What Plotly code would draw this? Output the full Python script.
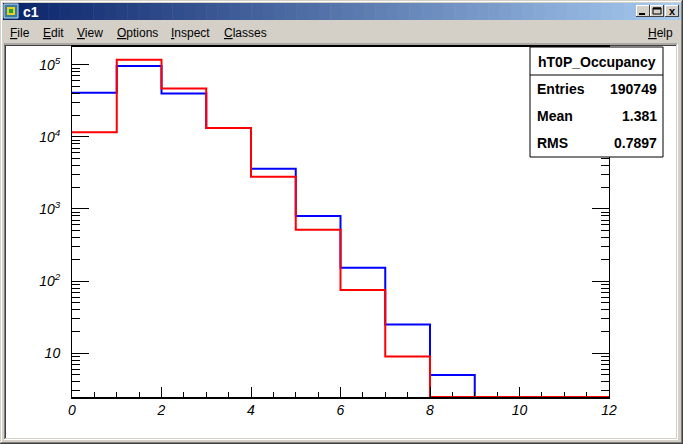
import plotly.graph_objects as go

# ---------------- data ----------------
bin_edges = [0, 1, 2, 3, 4, 5, 6, 7, 8, 9, 10, 11, 12]
blue_counts = [41000, 96000, 40000, 13300, 3600, 800, 153, 25, 5, 0, 0, 0]
red_counts = [11600, 117000, 47000, 13300, 2800, 516, 75, 9, 0, 0, 0, 0]
y_tick_vals = [10, 100, 1000, 10000, 100000]
y_tick_text = ["10", "10<sup>2</sup>", "10<sup>3</sup>", "10<sup>4</sup>", "10<sup>5</sup>"]
x_tick_vals = [0, 2, 4, 6, 8, 10, 12]
stats_title = "hT0P_Occupancy"
stats_rows = [("Entries", "190749"), ("Mean", "1.381"), ("RMS", "0.7897")]
menu_items = [("File", 8), ("Edit", 41), ("View", 75), ("Options", 115),
              ("Inspect", 169), ("Classes", 222)]

# ---------------- geometry ----------------
W, H = 683, 444
L, R, T, B = 72, 609, 47, 397
YLOG = [0.393, 5.246]
GRAY = "#d4d0c8"


def px(x):
    return (x - L) / (R - L)


def py(y):
    return (B - y) / (B - T)


ymin_val = 10 ** YLOG[0]


def step_y(vals):
    v = [max(c, ymin_val) for c in vals]
    return v + [v[-1]]


fig = go.Figure()
fig.add_trace(go.Scatter(x=bin_edges, y=step_y(blue_counts), mode="lines",
                         line=dict(color="#0000ff", width=2, shape="hv"),
                         cliponaxis=False, hoverinfo="skip", showlegend=False))
fig.add_trace(go.Scatter(x=bin_edges, y=step_y(red_counts), mode="lines",
                         line=dict(color="#ff0000", width=2, shape="hv"),
                         cliponaxis=False, hoverinfo="skip", showlegend=False))

shapes = []
annotations = []


def rect(x0, y0, x1, y1, fill=None, line=None, lw=1, layer="above"):
    shapes.append(dict(type="rect", xref="paper", yref="paper",
                       x0=px(x0), x1=px(x1), y0=py(y0), y1=py(y1),
                       fillcolor=fill if fill else "rgba(0,0,0,0)",
                       line=dict(color=line if line else "rgba(0,0,0,0)", width=lw if line else 0),
                       layer=layer))


def hline(x0, x1, y, color, lw=1, layer="above"):
    shapes.append(dict(type="line", xref="paper", yref="paper",
                       x0=px(x0), x1=px(x1), y0=py(y), y1=py(y),
                       line=dict(color=color, width=lw), layer=layer))


def vline(x, y0, y1, color, lw=1, layer="above"):
    shapes.append(dict(type="line", xref="paper", yref="paper",
                       x0=px(x), x1=px(x), y0=py(y0), y1=py(y1),
                       line=dict(color=color, width=lw), layer=layer))


def text(x, y, s, size=12, color="black", xanchor="left", bold=False, family="Liberation Sans"):
    annotations.append(dict(xref="paper", yref="paper", x=px(x), y=py(y), text=s,
                            showarrow=False, xanchor=xanchor, yanchor="middle",
                            font=dict(size=size, color=color, family=family,
                                      weight="bold" if bold else "normal")))


# window outer border
hline(0, W, 0.5, GRAY, layer="below")
hline(0, W, 1.5, "#ffffff", layer="below")
vline(0.5, 0, H, GRAY, layer="below")
vline(1.5, 1, H, "#ffffff", layer="below")
vline(W - 0.5, 0, H, "#404040", layer="below")
vline(W - 1.5, 1, H - 1, "#808080", layer="below")
hline(0, W, H - 0.5, "#404040", layer="below")
hline(1, W - 1, H - 1.5, "#808080", layer="below")

# title bar gradient
c0 = (10, 36, 106)
c1 = (166, 202, 240)
n = 60
x_start, x_end = 3, 680
for i in range(n):
    t = i / (n - 1)
    col = "rgb(%d,%d,%d)" % tuple(int(c0[k] + (c1[k] - c0[k]) * t) for k in range(3))
    xa = x_start + (x_end - x_start) * i / n
    xb = x_start + (x_end - x_start) * (i + 1) / n + 0.5
    rect(xa, 3, xb, 20, fill=col, layer="below")

# icon
rect(4, 4, 18, 18, fill="#3a7a9a", line="#c0e0ff", layer="below")
rect(7, 7, 15, 15, fill="#e8d020", layer="below")
rect(9, 9, 13, 13, fill="#20a040", layer="below")
text(21, 11.5, "c1", size=14, color="white", bold=True)

# title buttons
for bx in (636, 650, 665):
    rect(bx, 5, bx + 14, 17, fill=GRAY, layer="below")
    hline(bx, bx + 14, 5.5, "#ffffff", layer="below")
    vline(bx + 0.5, 5, 17, "#ffffff", layer="below")
    hline(bx, bx + 14, 16.5, "#404040", layer="below")
    vline(bx + 13.5, 5, 17, "#404040", layer="below")
hline(639, 645, 14, "black", lw=2, layer="below")
rect(653, 8, 661, 14, line="black", layer="below")
hline(653, 661, 8.5, "black", lw=2, layer="below")
text(672, 11, "x", size=11, color="black", xanchor="center", bold=True)

# menu
for name, x0 in menu_items:
    text(x0, 33, "<u>%s</u>%s" % (name[0], name[1:]), size=12)
text(675, 33, "<u>H</u>elp", size=12, xanchor="right")

# canvas (sunken)
rect(6, 45, 676, 438, fill="white", layer="below")
hline(4, 677, 44, "#808080", layer="below")
vline(4.5, 44, 440, "#808080", layer="below")
hline(5, 676, 45.5, "#404040", layer="below")
vline(5.5, 45, 439, "#404040", layer="below")
hline(5, 677, 438.5, GRAY, layer="below")
vline(676.5, 45, 439, GRAY, layer="below")
hline(4, 678, 439.5, "#ffffff", layer="below")
vline(677.5, 44, 440, "#ffffff", layer="below")

# stats box
rect(530, 47, 663, 157, fill="white", line="black", lw=1, layer="above")
hline(530, 663, 75, "black", layer="above")
text(596.5, 62, stats_title, size=14, bold=True, xanchor="center")
for (lab, val), yy in zip(stats_rows, [89, 116, 143]):
    text(535, yy, lab, size=14, bold=True)
    text(659, yy, val, size=14, bold=True, xanchor="right")

tickfont = dict(family="Liberation Sans", size=14, color="black", style="italic")

minor_y = [m * 10 ** k for k in range(0, 6) for m in range(2, 10)]

fig.update_layout(
    width=W, height=H,
    margin=dict(l=L, r=W - R, t=T, b=H - B, pad=0),
    paper_bgcolor=GRAY,
    plot_bgcolor="white",
    shapes=shapes,
    annotations=annotations,
    xaxis=dict(range=[0, 12], tickmode="array", tickvals=x_tick_vals,
               ticks="inside", ticklen=10, tickwidth=1, tickcolor="black",
               minor=dict(tickmode="linear", tick0=0, dtick=0.5, ticklen=5,
                          tickcolor="black", ticks="inside"),
               showline=True, linecolor="black", linewidth=2, mirror=True,
               showgrid=False, zeroline=False, tickfont=tickfont,
               ticklabelstandoff=-1, fixedrange=True),
    yaxis=dict(type="log", range=YLOG, tickmode="array", tickvals=y_tick_vals,
               ticktext=y_tick_text, ticks="inside", ticklen=17, tickwidth=1,
               tickcolor="black",
               minor=dict(tickmode="array", tickvals=minor_y, ticklen=8,
                          tickcolor="black", ticks="inside"),
               showline=True, linecolor="black", linewidth=1, mirror="ticks",
               showgrid=False, zeroline=False, tickfont=tickfont,
               ticklabelstandoff=8, fixedrange=True),
)

fig.write_html("out.html", config={"displayModeBar": False},
               post_script="document.body.style.margin='0';document.body.style.overflow='hidden';")
